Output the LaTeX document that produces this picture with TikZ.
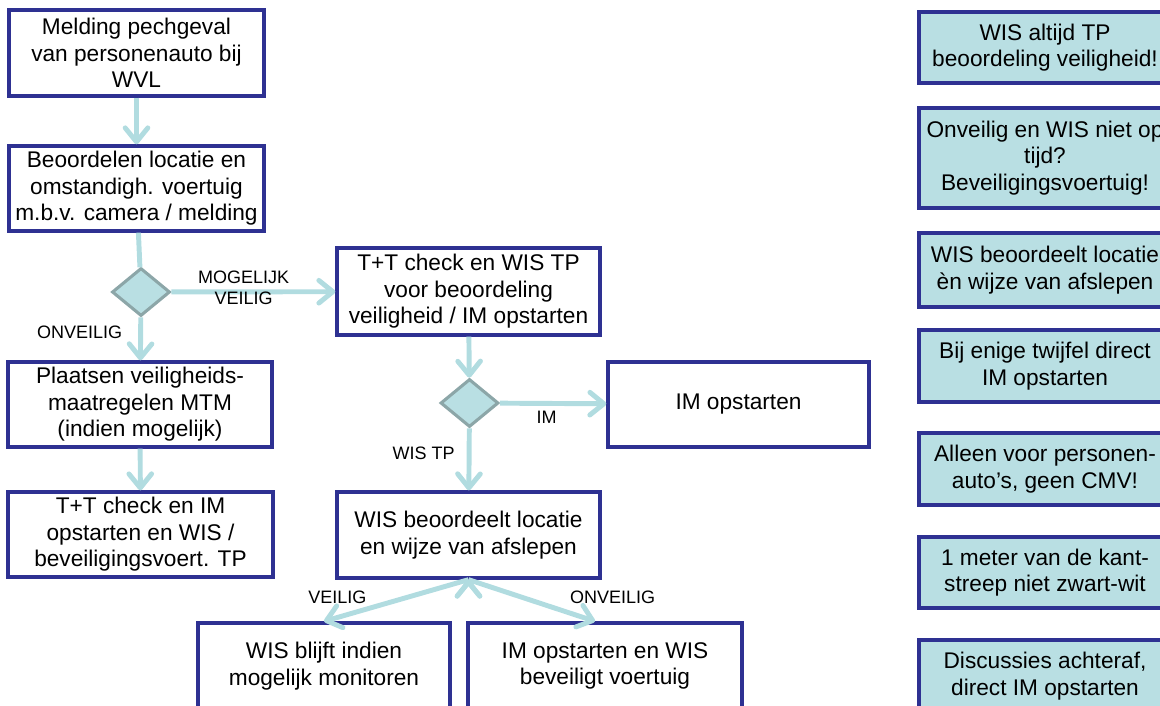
\documentclass[tikz,border=0pt]{standalone}
\usepackage{fontspec}
\setmainfont{Liberation Sans}
\usetikzlibrary{shapes.geometric, arrows.meta}

\definecolor{boxline}{HTML}{2E3192}
\definecolor{flowc}{HTML}{B1DCE0}
\definecolor{notefill}{HTML}{B9DFE3}
\definecolor{ruitline}{HTML}{8CA6A8}

\tikzset{
  stap/.style={draw=boxline, line width=2.5pt, fill=white, align=center, inner sep=0pt,
    font=\fontsize{17}{19.9}\selectfont},
  notitie/.style={stap, fill=notefill, minimum width=189pt},
  keuze/.style={diamond, draw=ruitline, fill=notefill, line width=2.3pt,
    minimum width=43.5pt, minimum height=36pt, inner sep=0pt},
  flow/.style={draw=flowc, line width=3.7pt, -{Straight Barb[length=10.5pt, width=17pt, round]}},
  lbl/.style={font=\fontsize{13.5}{15.75}\selectfont, align=center, inner sep=1pt}
}

\begin{document}
\begin{tikzpicture} [x=0.75pt, y=-0.75pt]
\clip (0,0) rectangle (1160,706);

% linker kolom
\node (melding) [stap, minimum width=191.25pt, minimum height=64.5pt] at (136.5,53)
  {Melding pechgeval\\van personenauto bij\\WVL};
\node (beoordelen) [stap, minimum width=191.25pt, minimum height=63.75pt] at (136.5,188.5)
  {Beoordelen locatie en\\omstandigh. voertuig\\m.b.v. camera / melding};
\node (d1) [keuze] at (141,292) {};
\node (plaatsen) [stap, minimum width=198pt, minimum height=63.75pt] at (140,404.5)
  {Plaatsen veiligheids-\\maatregelen MTM\\(indien mogelijk)};
\node (ttcheck) [stap, minimum width=198.75pt, minimum height=63.75pt] at (140.5,534.5)
  {T+T check en IM\\opstarten en WIS /\\beveiligingsvoert. TP};

% midden
\node (wischeck) [stap, minimum width=197.25pt, minimum height=65.25pt] at (468.5,291.5)
  {T+T check en WIS TP\\voor beoordeling\\veiligheid / IM opstarten};
\node (d2) [keuze] at (469.5,403) {};
\node (imop) [stap, minimum width=195.75pt, minimum height=63.75pt] at (738.5,404.5)
  {IM opstarten};
\node (wisbeo) [stap, minimum width=197.25pt, minimum height=64.5pt] at (468.5,535)
  {WIS beoordeelt locatie\\en wijze van afslepen};
\node (blijft) [stap, minimum width=189pt, minimum height=64.5pt] at (324,666)
  {WIS blijft indien\\mogelijk monitoren};
\node (beveiligt) [stap, minimum width=205.5pt, minimum height=64.5pt] at (605,666)
  {IM opstarten en WIS\\beveiligt voertuig};

% notities rechts
\node (tip1) [notitie, minimum height=53.25pt] at (1045,47.5)
  {WIS altijd TP\\beoordeling veiligheid!};
\node (tip2) [notitie, minimum height=75pt] at (1045,158)
  {Onveilig en WIS niet op\\tijd?\\Beveiligingsvoertuig!};
\node (tip3) [notitie, minimum height=55.5pt] at (1045,270)
  {WIS beoordeelt locatie\\èn wijze van afslepen};
\node (tip4) [notitie, minimum height=54pt] at (1045,366)
  {Bij enige twijfel direct\\IM opstarten};
\node (tip5) [notitie, minimum height=54pt] at (1045,469)
  {Alleen voor personen-\\auto’s, geen CMV!};
\node (tip6) [notitie, minimum height=53.25pt] at (1045,572.5)
  {1 meter van de kant-\\streep niet zwart-wit};
\node (tip7) [notitie, minimum height=54pt] at (1045,676)
  {Discussies achteraf,\\direct IM opstarten};

\path [flow]
  (melding) edge (beoordelen);
\path [flow, -]
  (beoordelen) edge (d1);
\path [flow]
  (d1) edge node[lbl, pos=0.44, yshift=3pt] {MOGELIJK\\VEILIG} (wischeck);
\path [flow]
  (d1) edge node[lbl, pos=0.35, left=11pt] {ONVEILIG} (plaatsen);
\path [flow]
  (plaatsen) edge (ttcheck);

\path [flow]
  (wischeck) edge (d2);
\path [flow]
  (d2) edge node[lbl, pos=0.44, below=3pt] {IM} (imop);
\path [flow]
  (d2) edge node[lbl, pos=0.4, left=8pt] {WIS TP} (wisbeo);
\path [flow]
  (wisbeo.south) edge node[lbl, pos=0.75, xshift=-17pt, yshift=10pt] {VEILIG} (blijft.north);
\path [flow]
  (wisbeo.south) edge node[lbl, pos=0.75, xshift=37pt, yshift=10pt] {ONVEILIG} ([xshift=-7.5pt]beveiligt.north);

\end{tikzpicture}
\end{document}
